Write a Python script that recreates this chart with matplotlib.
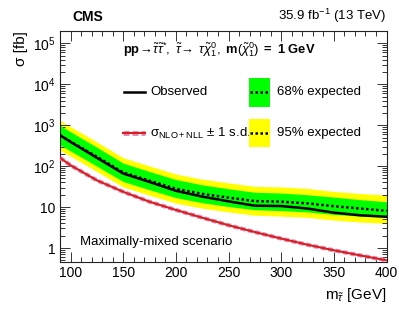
import matplotlib
matplotlib.use("Agg")
import matplotlib.pyplot as plt
from matplotlib.ticker import FixedLocator, FixedFormatter, MultipleLocator, LogLocator, NullFormatter
from matplotlib.patches import Rectangle
from matplotlib.lines import Line2D

plt.rcParams['font.family'] = ['Liberation Sans', 'DejaVu Sans']
plt.rcParams['mathtext.fontset'] = 'custom'
plt.rcParams['mathtext.rm'] = 'Liberation Sans'
plt.rcParams['mathtext.it'] = 'Liberation Sans:italic'
plt.rcParams['mathtext.bf'] = 'Liberation Sans:bold'
plt.rcParams['mathtext.sf'] = 'Liberation Sans'

# ---- data ----
mass = [90, 100, 125, 150, 175, 200, 225, 250, 275, 300, 325, 350, 375, 400]
observed = [570, 390, 160, 66, 41, 25, 18, 13.8, 10.8, 10.6, 9.2, 7.3, 6.3, 5.8]
expected = [570, 400, 170, 70, 44, 28, 21, 17, 14, 13.5, 12.3, 10.5, 9.2, 8.1]
green_up = [990, 690, 290, 118, 74, 47, 35, 28, 23, 22, 20, 17.5, 15.2, 13.5]
green_dn = [330, 235, 100, 42, 26.5, 17, 12.8, 10.3, 8.6, 8.2, 7.6, 6.6, 6.0, 5.6]
yellow_up = [1320, 920, 390, 160, 101, 64, 48, 39, 32, 31, 28.5, 24, 21.5, 19.6]
yellow_dn = [245, 175, 74, 31, 19.5, 12.5, 9.4, 7.6, 6.3, 6.0, 5.6, 4.8, 4.3, 4.0]
theory = [160, 105, 45, 23.6, 13.5, 8.5, 5.5, 3.6, 2.45, 1.7, 1.2, 0.88, 0.66, 0.5]

xticks = [100, 150, 200, 250, 300, 350, 400]
yticks = [1, 10, 100, 1000, 10000, 100000]
ytick_labels = ['1', '10', r'$10^{2}$', r'$10^{3}$', r'$10^{4}$', r'$10^{5}$']

GREEN = '#00ff00'
YELLOW = '#ffff00'
RED = '#d81e1e'
PINK = '#e58bb8'

fig = plt.figure(figsize=(3.99, 3.09), dpi=100)
ax = fig.add_axes([60/399, 1-262/309, 326.5/399, 231/309])

ax.fill_between(mass, yellow_dn, yellow_up, color=YELLOW, lw=0, zorder=1)
ax.fill_between(mass, green_dn, green_up, color=GREEN, lw=0, zorder=2)
ax.plot(mass, theory, color=PINK, lw=3.0, ls=(0, (1.2, 0.6)), zorder=3)
ax.plot(mass, theory, color=RED, lw=1.5, zorder=4)
ax.plot(mass, expected, color='black', lw=1.8, ls=(0, (1.0, 1.0)), zorder=5)
ax.plot(mass, observed, color='black', lw=1.8, zorder=6)

ax.set_yscale('log')
ax.set_xlim(90, 400)
ax.set_ylim(0.455, 2.0e5)

ax.xaxis.set_major_locator(FixedLocator(xticks))
ax.set_xticklabels([str(v) for v in xticks])
ax.xaxis.set_minor_locator(MultipleLocator(10))
ax.yaxis.set_major_locator(FixedLocator(yticks))
ax.yaxis.set_major_formatter(FixedFormatter(ytick_labels))
ax.yaxis.set_minor_locator(LogLocator(base=10, subs=range(2, 10)))
ax.yaxis.set_minor_formatter(NullFormatter())

ax.tick_params(which='both', direction='in', top=True, right=True, labelsize=10, width=0.7, color='#333333')
ax.tick_params(which='major', length=7, pad=3)
ax.tick_params(which='minor', length=3.5)
for s in ax.spines.values():
    s.set_linewidth(0.8)
    s.set_color('#222222')

# axis labels
ax.text(-0.118, 1.0, 'σ [fb]', transform=ax.transAxes, rotation=90, ha='center', va='top', fontsize=11)
ax.text(1.0, -0.105, r'm$_{\tilde{\tau}}$ [GeV]', transform=ax.transAxes, ha='right', va='top', fontsize=11)

# top labels
fig.text(88/399, 1-17/309, 'CMS', ha='center', va='center', fontsize=10, fontweight='bold')
fig.text(386/399, 1-16/309, r'35.9 fb$^{-1}$ (13 TeV)', ha='right', va='center', fontsize=9.5)

# header
ax.text(0.193, 0.918,
        r'$\mathbf{pp}\!\rightarrow\!\tilde{\tau}\tilde{\tau}^{*},\ \tilde{\tau}\!\rightarrow\ \tau\tilde{\chi}^{0}_{1},\ \mathbf{m}(\tilde{\chi}^{0}_{1})\ \mathbf{=\ 1\ GeV}$',
        transform=ax.transAxes, ha='left', va='center', fontsize=9.3)

# legend
T = ax.transAxes
ax.add_line(Line2D([0.196, 0.260], [0.734, 0.734], color='black', lw=1.8, transform=T, zorder=10))
ax.text(0.276, 0.734, 'Observed', transform=T, ha='left', va='center', fontsize=9.5)

ax.add_line(Line2D([0.193, 0.260], [0.558, 0.558], color=PINK, lw=3.6, ls=(0, (1.2, 0.6)), transform=T, zorder=10))
ax.add_line(Line2D([0.193, 0.260], [0.558, 0.558], color=RED, lw=1.5, transform=T, zorder=11))
ax.text(0.276, 0.558, r'σ$_{\mathrm{NLO+NLL}}$ ± 1 s.d.', transform=T, ha='left', va='center', fontsize=9.5)

ax.add_patch(Rectangle((0.579, 0.671), 0.064, 0.126, color=GREEN, transform=T, lw=0, zorder=10))
ax.add_line(Line2D([0.583, 0.639], [0.734, 0.734], color='black', lw=1.8, ls=(0, (1.0, 1.0)), transform=T, zorder=11))
ax.text(0.665, 0.734, '68% expected', transform=T, ha='left', va='center', fontsize=9.5)

ax.add_patch(Rectangle((0.579, 0.498), 0.064, 0.121, color=YELLOW, transform=T, lw=0, zorder=10))
ax.add_line(Line2D([0.583, 0.639], [0.558, 0.558], color='black', lw=1.8, ls=(0, (1.0, 1.0)), transform=T, zorder=11))
ax.text(0.665, 0.558, '95% expected', transform=T, ha='left', va='center', fontsize=9.5)

ax.text(0.061, 0.087, 'Maximally-mixed scenario', transform=T, ha='left', va='center', fontsize=9.5)

fig.savefig('out.png', dpi=100)
